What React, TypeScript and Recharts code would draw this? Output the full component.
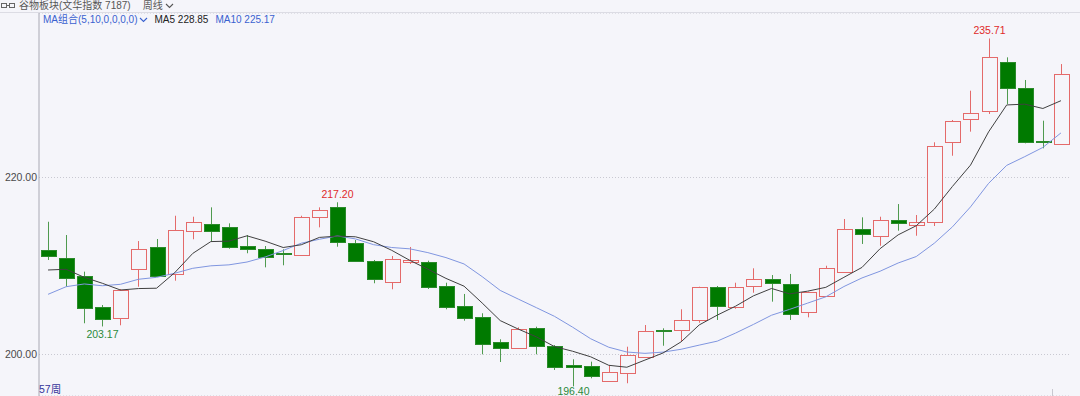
import { ComposedChart, Bar, Line, XAxis, YAxis, CartesianGrid } from "recharts";

const weeks = Array.from({ length: 57 }, (_, i) => `W${i + 1}`);

const opens = [
  211.81, 210.94, 208.87, 205.33, 204.09, 209.69, 212.18, 209.06, 213.95, 214.75,
  214.37, 212.26, 211.89, 211.44, 211.24, 215.5, 216.63, 212.63, 210.6, 208.23,
  210.49, 210.42, 207.77, 205.51, 204.2, 201.38, 200.77, 202.96, 200.96, 198.81,
  198.7, 197.04, 197.88, 199.75, 202.77, 202.77, 203.9, 207.66, 205.33, 207.74,
  208.5, 207.97, 204.77, 206.64, 209.36, 214.15, 213.42, 215.2, 214.6, 215.01,
  223.98, 226.58, 227.48, 233.08, 230.15, 224.12, 223.75,
];
const highs = [
  215.0, 213.5, 209.36, 205.59, 207.4, 212.82, 213.05, 215.68, 215.57, 216.63,
  214.82, 213.5, 212.26, 211.89, 215.68, 216.63, 217.2, 212.94, 210.68, 211.13,
  212.15, 210.6, 208.11, 206.84, 204.66, 201.72, 203.07, 203.14, 201.07, 199.46,
  199.19, 198.81, 200.88, 203.33, 202.96, 205.11, 207.66, 207.74, 208.11, 209.74,
  208.98, 209.1, 207.1, 210.03, 215.31, 215.5, 215.57, 217.0, 215.76, 223.98,
  226.5, 229.81, 235.71, 233.58, 231.02, 226.42, 232.82,
];
const lows = [
  210.68, 207.66, 203.53, 203.17, 203.3, 207.66, 208.85, 208.34, 213.02, 212.75,
  211.95, 211.44, 209.85, 210.08, 211.16, 214.37, 212.18, 210.5, 208.05, 207.37,
  210.23, 207.4, 205.11, 203.82, 200.02, 199.15, 200.7, 200.02, 198.25, 196.4,
  197.31, 196.93, 196.75, 199.64, 200.99, 201.45, 203.59, 203.9, 205.17, 206.98,
  205.97, 203.9, 204.2, 206.6, 209.3, 212.49, 212.29, 213.99, 213.42, 214.52,
  222.46, 225.18, 227.18, 228.31, 223.86, 223.3, 223.7,
];
const closes = [
  211.13, 208.68, 205.29, 204.05, 207.29, 211.92, 208.9, 214.03, 214.94, 213.99,
  212.18, 211.92, 211.02, 211.32, 215.57, 216.33, 212.68, 210.6, 208.5, 210.76,
  210.68, 207.66, 205.4, 204.12, 201.22, 200.73, 202.88, 200.99, 198.62, 198.62,
  197.6, 198.06, 199.91, 202.66, 202.62, 203.9, 207.59, 205.48, 207.66, 208.5,
  208.05, 204.58, 207.03, 209.81, 214.15, 213.62, 215.2, 214.82, 214.94, 223.59,
  226.42, 227.25, 233.58, 230.15, 224.05, 223.98, 231.66,
];
const ma5 = [
  209.55, 209.63, 208.72, 208.05, 207.29, 207.45, 207.49, 209.24, 211.42, 212.76,
  212.81, 213.41, 212.81, 212.09, 212.4, 213.23, 213.38, 213.3, 212.74, 211.77,
  210.64, 209.64, 208.6, 207.72, 205.82, 203.83, 202.87, 201.99, 200.89, 200.37,
  199.74, 198.78, 198.56, 199.37, 200.17, 201.43, 203.34, 204.45, 205.45, 206.63,
  207.46, 206.85, 207.16, 207.59, 208.72, 209.84, 211.96, 213.52, 214.55, 216.43,
  218.99, 221.4, 225.16, 228.2, 228.29, 227.8, 228.68,
];
const ma10 = [
  206.8, 207.66, 207.97, 207.77, 207.93, 208.5, 208.72, 209.18, 209.74, 210.02,
  210.13, 210.45, 211.02, 211.75, 212.58, 213.02, 213.4, 213.06, 212.41, 212.09,
  211.94, 211.51, 210.95, 210.23, 208.8, 207.24, 206.26, 205.29, 204.31, 203.09,
  201.78, 200.82, 200.28, 200.13, 200.27, 200.59, 201.06, 201.51, 202.41, 203.4,
  204.44, 205.1, 205.81, 206.52, 207.68, 208.65, 209.41, 210.34, 211.07, 212.58,
  214.42, 216.68, 219.34, 221.37, 222.36, 223.4, 225.04,
];

// extreme marks printed on the chart
const highMarks = ["W17", "W53"];
const lowMarks = ["W4", "W30"];

const yTicks = [200, 220];

const RED = "#e46a6a";
const GREEN = "#007a00";
const GREEN_WICK = "#4f9a4f";
const BG = "#f5f5fa";

const data = weeks.map((w, i) => ({
  week: w,
  open: opens[i],
  high: highs[i],
  low: lows[i],
  close: closes[i],
  range: [lows[i], highs[i]],
  ma5: ma5[i],
  ma10: ma10[i],
}));

function Candle(props: any) {
  const { x, width, payload } = props;
  let { y, height } = props;
  if (height < 0) {
    y = y + height;
    height = -height;
  }
  const { open, close, high, low } = payload;
  const k = height / (high - low);
  const yOf = (v: number) => y + (high - v) * k;
  const cx = Math.round(x + width / 2) + 0.5;
  const bw = 16;
  const left = Math.round(cx - bw / 2) + 0.5;
  const up = close >= open;
  const top = Math.round(yOf(Math.max(open, close))) + 0.5;
  const bot = Math.max(top + 1, Math.round(yOf(Math.min(open, close))) + 0.5);
  const yh = yOf(high);
  const yl = yOf(low);
  return (
    <g>
      {up ? (
        <>
          <line x1={cx} x2={cx} y1={yh} y2={top} stroke={RED} />
          <line x1={cx} x2={cx} y1={bot} y2={yl} stroke={RED} />
          <rect x={left} y={top} width={bw - 1} height={bot - top} fill={BG} stroke={RED} />
        </>
      ) : (
        <>
          <line x1={cx} x2={cx} y1={yh} y2={yl} stroke={GREEN_WICK} />
          <rect x={left} y={top} width={bw - 1} height={bot - top} fill={GREEN} stroke="#2a8a2a" />
        </>
      )}
      {highMarks.includes(payload.week) && (
        <text x={cx} y={yh - 4} textAnchor="middle" fontSize={10.5} fill="#e02a2a">
          {high.toFixed(2)}
        </text>
      )}
      {lowMarks.includes(payload.week) && (
        <text x={cx} y={Math.min(yl + 12, 395)} textAnchor="middle" fontSize={10.5} fill="#2a8a3a">
          {low.toFixed(2)}
        </text>
      )}
    </g>
  );
}

function Chevron({ color }: { color: string }) {
  return (
    <svg width={9} height={6} style={{ marginLeft: 2, verticalAlign: "middle" }}>
      <polyline points="1,1 4.5,4.5 8,1" fill="none" stroke={color} strokeWidth={1.1} />
    </svg>
  );
}

export default function App() {
  const font = "'Liberation Sans', 'Noto Sans CJK SC', sans-serif";
  return (
    <div
      style={{
        position: "absolute",
        left: 0,
        top: 0,
        width: 1080,
        height: 396,
        background: BG,
        fontFamily: font,
        overflow: "hidden",
      }}
    >
      <ComposedChart
        width={1080}
        height={396}
        data={data}
        margin={{ top: 13, right: 10, bottom: 0, left: 0 }}
        style={{ position: "absolute", left: 0, top: 0 }}
      >
        <CartesianGrid horizontal vertical={false} stroke="#c9c9d2" strokeDasharray="1 2" />
        <XAxis dataKey="week" hide />
        <YAxis
          width={39}
          domain={[195.31, 238.59]}
          allowDataOverflow
          ticks={yTicks}
          tickFormatter={(v) => Number(v).toFixed(2)}
          tick={{ fontSize: 10.5, fill: "#4a4a4a" }}
          tickLine={false}
          tickSize={0}
          tickMargin={2}
          axisLine={{ stroke: "#a9a9b4" }}
        />
        <Bar dataKey="range" barSize={16} shape={<Candle />} isAnimationActive={false} />
        <Line
          dataKey="ma10"
          type="linear"
          stroke="#8096e0"
          strokeWidth={1}
          dot={false}
          isAnimationActive={false}
        />
        <Line
          dataKey="ma5"
          type="linear"
          stroke="#404040"
          strokeWidth={1}
          dot={false}
          isAnimationActive={false}
        />
      </ComposedChart>

      <div style={{ position: "absolute", left: 0, top: 12, width: 1080, height: 1, background: "#dcdce4" }} />

      <svg width={14} height={8} style={{ position: "absolute", left: 1, top: 2 }}>
        <rect x={0.5} y={1.5} width={5} height={4} fill="none" stroke="#666" />
        <rect x={8.5} y={1.5} width={5} height={4} fill="none" stroke="#666" />
        <line x1={5} x2={9} y1={3.5} y2={3.5} stroke="#666" />
      </svg>
      <div
        style={{
          position: "absolute",
          left: 19,
          top: 0,
          fontSize: 10,
          color: "#555",
          whiteSpace: "nowrap",
          lineHeight: "12px",
        }}
      >
        谷物板块(文华指数 7187)
        <span style={{ marginLeft: 12 }}>周线</span>
        <Chevron color="#555" />
      </div>

      <div
        style={{
          position: "absolute",
          left: 43,
          top: 13,
          fontSize: 10,
          whiteSpace: "nowrap",
          lineHeight: "13px",
        }}
      >
        <span style={{ color: "#3a62d0" }}>MA组合(5,10,0,0,0,0)</span>
        <Chevron color="#3a62d0" />
        <span style={{ color: "#222", marginLeft: 6 }}>MA5 228.85</span>
        <span style={{ color: "#3a62d0", marginLeft: 7 }}>MA10 225.17</span>
      </div>

      <div
        style={{
          position: "absolute",
          left: 39,
          top: 383,
          fontSize: 10.5,
          color: "#34349a",
          lineHeight: "13px",
        }}
      >
        57周
      </div>
      <div style={{ position: "absolute", left: 1052, top: 389, width: 1, height: 7, background: "#c8c8d0" }} />
    </div>
  );
}
